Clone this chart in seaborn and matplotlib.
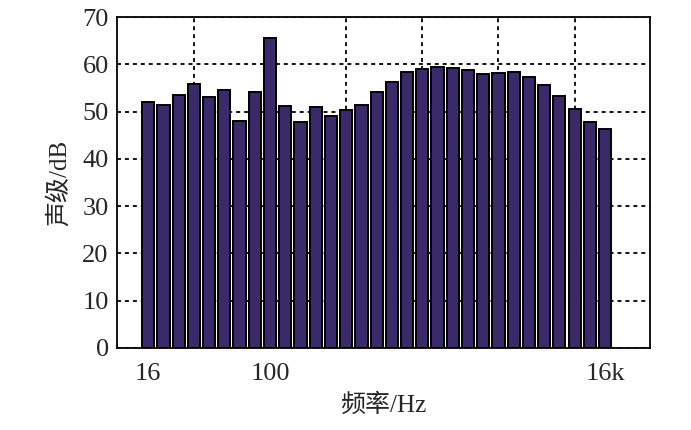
import numpy as np
import pandas as pd
import seaborn as sns
import matplotlib.pyplot as plt

# 1/3 octave bands, 16 Hz .. 16 kHz
bands = ['16', '20', '25', '31.5', '40', '50', '63', '80', '100', '125', '160',
         '200', '250', '315', '400', '500', '630', '800', '1k', '1.25k', '1.6k',
         '2k', '2.5k', '3.15k', '4k', '5k', '6.3k', '8k', '10k', '12.5k', '16k']
levels = [52.1, 51.4, 53.5, 55.8, 53.1, 54.6, 48.0, 54.2, 65.6, 51.2, 47.7,
          51.0, 49.1, 50.3, 51.4, 54.2, 56.3, 58.3, 59.0, 59.4, 59.2, 58.8,
          58.0, 58.1, 58.3, 57.4, 55.7, 53.3, 50.6, 47.7, 46.4]
tick_labels = ['16', '100', '16k']
grid_bands = ['31.5', '100', '315', '1k', '3.15k', '10k']

df = pd.DataFrame({'band': bands, 'level': levels})

sns.set_style('white')
plt.rcParams['font.family'] = ['Liberation Serif', 'Noto Sans CJK SC']

fig = plt.figure(figsize=(6.91, 4.30), dpi=100)
ax = fig.add_axes([117 / 691, 82 / 430, 533 / 691, 331 / 430])

sns.barplot(data=df, x='band', y='level', order=bands, color='#3a2a6a',
            saturation=1, width=0.8, edgecolor='black', linewidth=1.4, ax=ax,
            zorder=3)

# dashed grid behind the bars
dash = (0, (2.2, 2.2))
ax.set_xticks([bands.index(b) for b in grid_bands], minor=True)
ax.grid(True, which='minor', axis='x', color='black', linestyle=dash,
        linewidth=1.3, zorder=0)
ax.grid(True, which='major', axis='y', color='black', linestyle=dash,
        linewidth=1.3, zorder=0)
ax.grid(False, which='major', axis='x')
ax.set_axisbelow(True)

ax.set_xticks([bands.index(t) for t in tick_labels])
ax.set_xticklabels(tick_labels)
ax.set_xlim(-2.05, 32.95)
ax.set_ylim(0, 70)
ax.set_yticks(range(0, 71, 10))
ax.tick_params(axis='both', which='both', length=0, labelsize=19, pad=6)
ax.tick_params(axis='x', pad=11)

for s in ax.spines.values():
    s.set_visible(True)
    s.set_color('black')
    s.set_linewidth(1.3)

ax.set_xlabel('频率/Hz', fontsize=18, labelpad=6)
ax.set_ylabel('声级/dB', fontsize=18, labelpad=8)

fig.savefig('out.png', dpi=100)
